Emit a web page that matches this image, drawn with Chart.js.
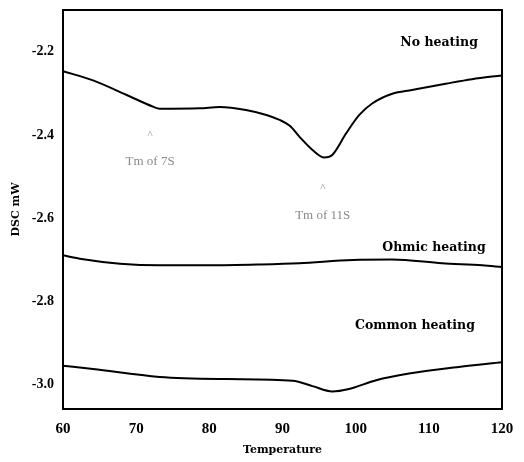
<!DOCTYPE html>
<html>
<head>
<meta charset="utf-8">
<script src="https://cdn.jsdelivr.net/npm/chart.js@4.4.1/dist/chart.umd.min.js"></script>
<style>
  html, body { margin: 0; padding: 0; background: #fff; }
  #wrap { width: 524px; height: 462px; position: relative; }
</style>
</head>
<body>
<div id="wrap"><canvas id="c" width="524" height="462"></canvas></div>
<script>
// ---- data ----
const temps = {
  noHeating: [60, 64.1, 68.7, 72.3, 73.2, 78.7, 81.4, 85, 87.8, 89.6, 91, 92.3, 94.1, 95.7, 96.8, 98.7, 100.5, 102.3, 105, 107.7, 112.3, 115.9, 120],
  ohmic:     [60, 62.3, 67.8, 73.2, 80, 86.9, 92.3, 99.6, 105, 111.8, 117.3, 120],
  common:    [60, 64.1, 73.2, 82.3, 91.4, 94.1, 96.8, 99.1, 102.8, 107.3, 114.1, 120]
};
const noHeatingDSC = [-2.247, -2.269, -2.304, -2.332, -2.337, -2.336, -2.333, -2.340, -2.352, -2.364, -2.378, -2.404, -2.436, -2.454, -2.448, -2.396, -2.352, -2.324, -2.301, -2.292, -2.277, -2.266, -2.257];
const ohmicDSC     = [-2.689, -2.697, -2.709, -2.713, -2.713, -2.711, -2.708, -2.700, -2.699, -2.708, -2.713, -2.717];
const commonDSC    = [-2.954, -2.962, -2.981, -2.986, -2.990, -3.003, -3.016, -3.010, -2.989, -2.973, -2.957, -2.946];

const xTicks = [60, 70, 80, 90, 100, 110, 120];
const yTicks = [-2.2, -2.4, -2.6, -2.8, -3.0];

const seriesLabels = ['No heating', 'Ohmic heating', 'Common heating'];
const seriesLabelAt = [[111.4, -2.178], [110.7, -2.670], [108.1, -2.858]];
const peakNotes = ['Tm of 7S', 'Tm of 11S'];
const peakNoteAt = [[71.9, -2.40], [95.5, -2.528]];

// ---- chart ----
function pts(xs, ys) { return xs.map((x, i) => ({ x: x, y: ys[i] })); }

const serif = "'Liberation Serif', 'DejaVu Serif', serif";
const wideSerif = "'DejaVu Serif', 'Liberation Serif', serif";

const framePlugin = {
  id: 'frame',
  afterDraw(chart) {
    const { ctx, chartArea: a, scales } = chart;
    ctx.save();
    ctx.strokeStyle = '#000';
    ctx.lineWidth = 2;
    ctx.strokeRect(a.left, a.top, a.right - a.left, a.bottom - a.top);

    // series labels
    ctx.fillStyle = '#000';
    ctx.font = 'bold 12.5px ' + wideSerif;
    ctx.textAlign = 'center';
    ctx.textBaseline = 'middle';
    seriesLabels.forEach((t, i) => {
      ctx.fillText(t, scales.x.getPixelForValue(seriesLabelAt[i][0]), scales.y.getPixelForValue(seriesLabelAt[i][1]));
    });

    // peak notes
    ctx.fillStyle = '#8a8a8a';
    peakNotes.forEach((t, i) => {
      const px = scales.x.getPixelForValue(peakNoteAt[i][0]);
      const py = scales.y.getPixelForValue(peakNoteAt[i][1]);
      ctx.font = '11px ' + serif;
      ctx.fillText('^', px, py);
      ctx.font = '13px ' + serif;
      ctx.fillText(t, px, py + 27);
    });
    ctx.restore();
  }
};

const lineStyle = {
  borderColor: '#000',
  borderWidth: 2,
  pointRadius: 0,
  fill: false,
  cubicInterpolationMode: 'monotone'
};

new Chart(document.getElementById('c'), {
  type: 'line',
  data: {
    datasets: [
      Object.assign({ label: seriesLabels[0], data: pts(temps.noHeating, noHeatingDSC) }, lineStyle),
      Object.assign({ label: seriesLabels[1], data: pts(temps.ohmic, ohmicDSC) }, lineStyle),
      Object.assign({ label: seriesLabels[2], data: pts(temps.common, commonDSC) }, lineStyle)
    ]
  },
  options: {
    responsive: false,
    animation: false,
    devicePixelRatio: 1,
    layout: { padding: { left: 10, right: 22, top: 10, bottom: 0 } },
    plugins: { legend: { display: false }, tooltip: { enabled: false } },
    scales: {
      x: {
        type: 'linear',
        min: 60, max: 120,
        afterBuildTicks(s) { s.ticks = xTicks.map(v => ({ value: v })); },
        afterFit(s) { s.height = 53; s.paddingLeft = 0; s.paddingRight = 0; },
        grid: { display: false, drawTicks: false },
        border: { display: true, color: '#000', width: 2 },
        ticks: {
          color: '#000', padding: 11, maxRotation: 0,
          font: { family: serif, weight: 'bold', size: 15 },
          callback: v => String(v)
        },
        title: {
          display: true, text: 'Temperature', color: '#000', padding: { top: 2, bottom: 5 },
          font: { family: wideSerif, weight: 'bold', size: 11 }
        }
      },
      y: {
        type: 'linear',
        min: -3.058, max: -2.10,
        afterBuildTicks(s) { s.ticks = yTicks.map(v => ({ value: v })); },
        afterFit(s) { s.width = 53; s.paddingTop = 0; s.paddingBottom = 0; },
        grid: { display: false, drawTicks: false },
        border: { display: true, color: '#000', width: 2 },
        ticks: {
          color: '#000', padding: 9,
          font: { family: serif, weight: 'bold', size: 14 },
          callback: v => Number(v).toFixed(1)
        },
        title: {
          display: true, text: 'DSC mW', color: '#000', padding: { top: 0, bottom: 4 },
          font: { family: wideSerif, weight: 'bold', size: 11 }
        }
      }
    }
  },
  plugins: [framePlugin]
});
</script>
</body>
</html>
